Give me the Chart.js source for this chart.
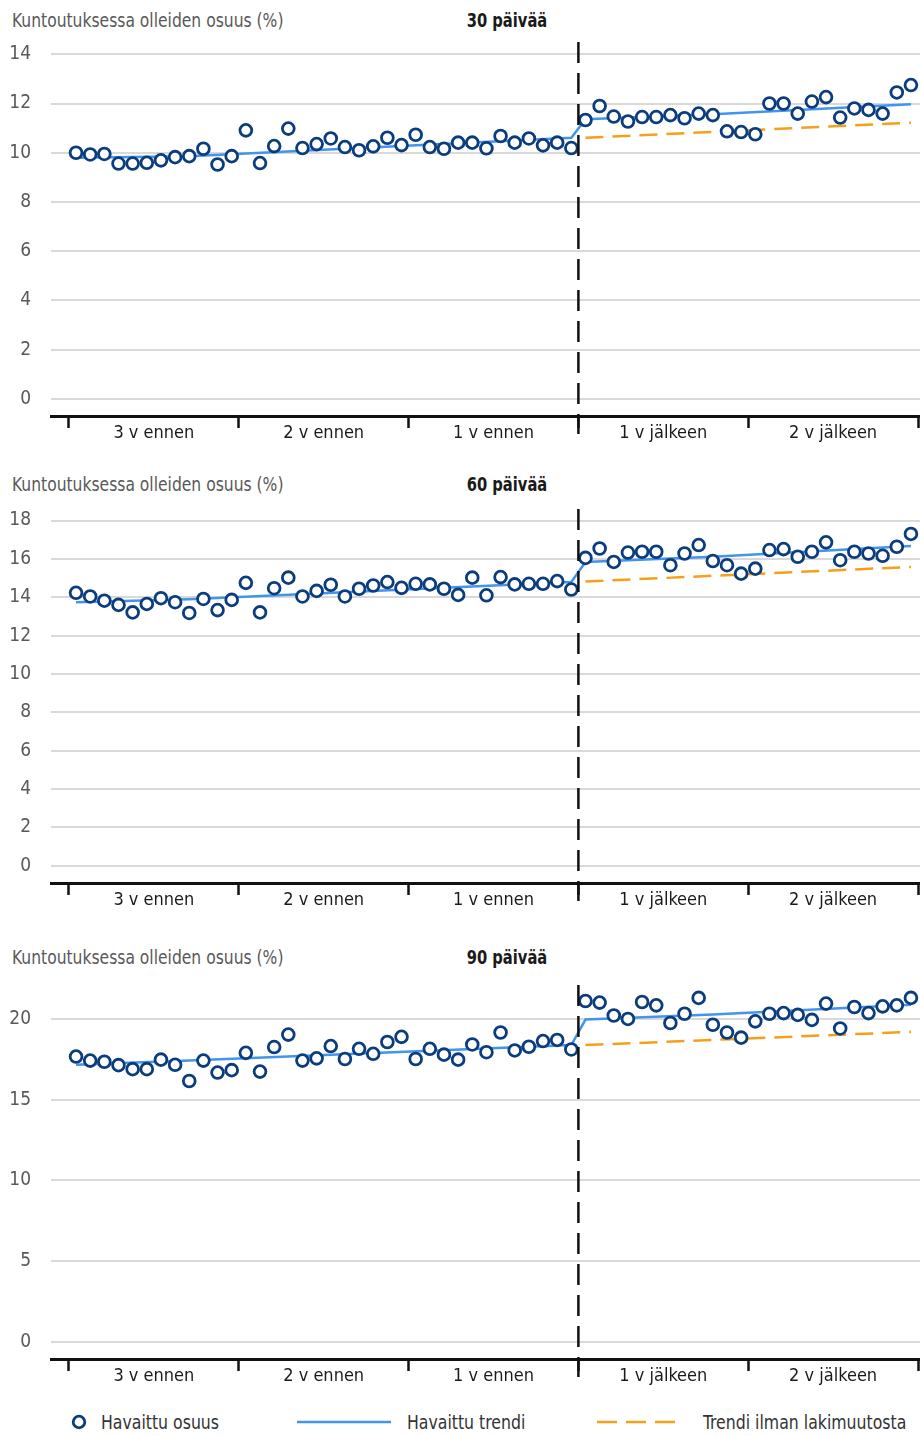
<!DOCTYPE html>
<html lang="fi">
<head>
<meta charset="utf-8">
<title>Kuntoutuksessa olleiden osuus</title>
<script src="https://cdn.jsdelivr.net/npm/chart.js@4.4.1/dist/chart.umd.min.js"></script>
<style>
    body { margin: 0; background: #fff; }
    #page {
        position: relative; width: 920px; height: 1436px; overflow: hidden;
        font-family: 'Liberation Sans Narrow', 'DejaVu Sans Condensed', sans-serif;
    }
    .panel { position: absolute; left: 0; width: 920px; height: 456px; }
    .ytitle { position: absolute; left: 12px; font-size: 19px; line-height: 20px; color: #595959; white-space: nowrap; transform: scaleX(0.91); transform-origin: left center; }
    .ptitle { position: absolute; font-size: 19px; line-height: 20px; font-weight: bold; color: #1a1a1a; transform: translateX(-50%) scaleX(0.86); white-space: nowrap; }
    .legend-item { position: absolute; top: 1411px; height: 22px; display: flex; align-items: center; font-size: 19px; color: #333; white-space: nowrap; }
    .legend-item svg { display: block; }
    .legend-item span { display: inline-block; transform: scaleX(0.92); transform-origin: left center; }
</style>
</head>
<body>
<div id="page">
    <div class="ytitle" style="top:10px">Kuntoutuksessa olleiden osuus (%)</div>
    <div class="ptitle" id="title0" style="top:10px;left:507px"></div>
    <div class="panel" style="top:0px"><canvas id="chart0" width="920" height="456"></canvas></div>

    <div class="ytitle" style="top:474px">Kuntoutuksessa olleiden osuus (%)</div>
    <div class="ptitle" id="title1" style="top:474px;left:507px"></div>
    <div class="panel" style="top:467px"><canvas id="chart1" width="920" height="456"></canvas></div>

    <div class="ytitle" style="top:947px">Kuntoutuksessa olleiden osuus (%)</div>
    <div class="ptitle" id="title2" style="top:947px;left:507px"></div>
    <div class="panel" style="top:943px"><canvas id="chart2" width="920" height="456"></canvas></div>

    <!-- Legend -->
    <div class="legend-item" style="left:70px">
        <svg width="18" height="18"><circle cx="9" cy="9" r="5.8" fill="#fff" stroke="#0b3c7d" stroke-width="2.8"/></svg>
        <span style="margin-left:13px">Havaittu osuus</span>
    </div>
    <div class="legend-item" style="left:297px">
        <svg width="94" height="6"><line x1="0" y1="3" x2="94" y2="3" stroke="#4394ec" stroke-width="2.5"/></svg>
        <span style="margin-left:16px">Havaittu trendi</span>
    </div>
    <div class="legend-item" style="left:597px">
        <svg width="80" height="6"><line x1="0" y1="3" x2="80" y2="3" stroke="#f5a01a" stroke-width="2.5" stroke-dasharray="20 9"/></svg>
        <span style="margin-left:26px">Trendi ilman lakimuutosta</span>
    </div>
</div>

<script>
// Panel titles and x-axis labels
const panelTitles = ['30 päivää', '60 päivää', '90 päivää'];
const yearLabels = ['3 v ennen', '2 v ennen', '1 v ennen', '1 v jälkeen', '2 v jälkeen'];
const yearMids = [5.5, 17.5, 29.5, 41.5, 53.5];
const yearBounds = [-0.5, 11.5, 23.5, 35.5, 47.5, 59.5];
const lawChange = 35.5;

// Month index of each observation (36 before, 24 after the change)
const months = [
    0, 1, 2, 3, 4, 5, 6, 7, 8, 9, 10, 11,
    12, 13, 14, 15, 16, 17, 18, 19, 20, 21, 22, 23,
    24, 25, 26, 27, 28, 29, 30, 31, 32, 33, 34, 35,
    36, 37, 38, 39, 40, 41, 42, 43, 44, 45, 46, 47,
    48, 49, 50, 51, 52, 53, 54, 55, 56, 57, 58, 59
];

// Observed share (%)
const share30 = [
    10.00, 9.93, 9.95, 9.56, 9.56, 9.59, 9.69, 9.82, 9.86, 10.16, 9.52, 9.86,
    10.91, 9.58, 10.27, 10.98, 10.19, 10.35, 10.58, 10.23, 10.10, 10.26, 10.61, 10.31,
    10.73, 10.23, 10.16, 10.41, 10.41, 10.18, 10.68, 10.41, 10.58, 10.30, 10.41, 10.19,
    11.33, 11.90, 11.47, 11.27, 11.45, 11.45, 11.53, 11.40, 11.59, 11.53, 10.87, 10.84,
    10.75, 12.00, 12.00, 11.59, 12.08, 12.26, 11.43, 11.80, 11.74, 11.59, 12.45, 12.75
];
const share60 = [
    14.23, 14.04, 13.82, 13.60, 13.21, 13.65, 13.95, 13.74, 13.18, 13.91, 13.33, 13.86,
    14.75, 13.21, 14.47, 15.02, 14.04, 14.33, 14.65, 14.04, 14.44, 14.61, 14.79, 14.49,
    14.70, 14.67, 14.44, 14.12, 15.02, 14.10, 15.05, 14.67, 14.70, 14.70, 14.84, 14.40,
    16.05, 16.54, 15.84, 16.33, 16.37, 16.37, 15.67, 16.28, 16.72, 15.89, 15.67, 15.23,
    15.49, 16.46, 16.51, 16.11, 16.37, 16.86, 15.93, 16.37, 16.28, 16.16, 16.63, 17.30
];
const share90 = [
    17.67, 17.42, 17.35, 17.14, 16.89, 16.89, 17.48, 17.16, 16.16, 17.42, 16.68, 16.83,
    17.90, 16.74, 18.26, 19.03, 17.42, 17.56, 18.32, 17.52, 18.15, 17.84, 18.57, 18.89,
    17.52, 18.15, 17.79, 17.48, 18.42, 17.94, 19.16, 18.05, 18.28, 18.63, 18.70, 18.11,
    21.11, 21.01, 20.21, 20.00, 21.05, 20.84, 19.75, 20.32, 21.30, 19.64, 19.16, 18.84,
    19.85, 20.32, 20.36, 20.25, 19.94, 20.95, 19.41, 20.74, 20.36, 20.78, 20.84, 21.30
];

// Observed trend (vertices of the fitted line)
const trendX = [0, 8, 35, 36, 45, 59];
const trend30 = [9.80, 9.86, 10.61, 11.36, 11.56, 11.97];
const trend60 = [13.74, 13.90, 14.79, 15.84, 16.11, 16.67];
const trend90 = [17.16, 17.42, 18.38, 19.96, 20.27, 20.88];

// Trend without the law change
const cfX = [36, 59];
const cf30 = [10.61, 11.22];
const cf60 = [14.82, 15.58];
const cf90 = [18.38, 19.20];

// Y axis ticks and ranges
const yTicks30 = [0, 2, 4, 6, 8, 10, 12, 14];
const yTicks60 = [0, 2, 4, 6, 8, 10, 12, 14, 16, 18];
const yTicks90 = [0, 5, 10, 15, 20];

const panels = [
    { share: share30, trend: trend30, cf: cf30, ticks: yTicks30, yMin: -0.7, yMax: 14.5 },
    { share: share60, trend: trend60, cf: cf60, ticks: yTicks60, yMin: -0.9, yMax: 18.6 },
    { share: share90, trend: trend90, cf: cf90, ticks: yTicks90, yMin: -1.05, yMax: 22.1 }
];

const fontFamily = "'Liberation Sans Narrow', 'DejaVu Sans Condensed', sans-serif";

// Dashed vertical line at the law change
const breakLine = {
    id: 'breakLine',
    afterDraw(chart) {
        const ctx = chart.ctx;
        const x = chart.scales.x.getPixelForValue(lawChange);
        ctx.save();
        ctx.strokeStyle = '#111';
        ctx.lineWidth = 2.5;
        ctx.setLineDash([21, 10]);
        ctx.beginPath();
        ctx.moveTo(x, chart.chartArea.top);
        ctx.lineTo(x, chart.chartArea.bottom + 18);
        ctx.stroke();
        ctx.restore();
    }
};

function toPoints(xs, ys) {
    return xs.map((x, i) => ({ x: x, y: ys[i] }));
}

function initializeChart(index) {
    const p = panels[index];
    document.getElementById('title' + index).textContent = panelTitles[index];
    const ctx = document.getElementById('chart' + index).getContext('2d');

    return new Chart(ctx, {
        type: 'line',
        data: {
            datasets: [
                {
                    label: 'Havaittu osuus',
                    data: toPoints(months, p.share),
                    showLine: false,
                    pointRadius: 5.9,
                    pointBorderWidth: 2.8,
                    pointBorderColor: '#0b3c7d',
                    pointBackgroundColor: '#ffffff'
                },
                {
                    label: 'Havaittu trendi',
                    data: toPoints(trendX, p.trend),
                    borderColor: '#4394ec',
                    borderWidth: 2.5,
                    pointRadius: 0,
                    tension: 0
                },
                {
                    label: 'Trendi ilman lakimuutosta',
                    data: toPoints(cfX, p.cf),
                    borderColor: '#f5a01a',
                    borderWidth: 2.5,
                    borderDash: [18, 9],
                    pointRadius: 0,
                    tension: 0
                }
            ]
        },
        options: {
            responsive: false,
            animation: false,
            devicePixelRatio: 1,
            layout: { autoPadding: false, padding: { top: 42, bottom: 0, left: 0, right: 0 } },
            plugins: {
                legend: { display: false },
                tooltip: { enabled: false }
            },
            scales: {
                x: {
                    type: 'linear',
                    min: -1.77,
                    max: 59.64,
                    afterBuildTicks: (scale) => {
                        scale.ticks = yearBounds.concat(yearMids)
                            .sort((a, b) => a - b)
                            .map(v => ({ value: v }));
                    },
                    afterFit: (scale) => { scale.height = 40; },
                    grid: {
                        drawOnChartArea: false,
                        drawTicks: true,
                        tickLength: 12,
                        tickWidth: 2.5,
                        tickColor: (c) => yearBounds.includes(c.tick && c.tick.value) ? '#111' : 'rgba(0,0,0,0)'
                    },
                    border: { display: true, color: '#111', width: 3 },
                    ticks: {
                        autoSkip: false,
                        maxRotation: 0,
                        padding: -5,
                        color: '#1a1a1a',
                        font: { family: fontFamily, size: 18 },
                        callback: (value) => {
                            const i = yearMids.indexOf(value);
                            return i >= 0 ? yearLabels[i] : '';
                        }
                    }
                },
                y: {
                    min: p.yMin,
                    max: p.yMax,
                    afterBuildTicks: (scale) => {
                        scale.ticks = p.ticks.map(v => ({ value: v }));
                    },
                    afterFit: (scale) => { scale.width = 51; },
                    grid: { color: '#d9d9d9', lineWidth: 2, drawTicks: false },
                    border: { display: false },
                    ticks: {
                        padding: 20,
                        color: '#595959',
                        font: { family: fontFamily, size: 19 }
                    }
                }
            }
        },
        plugins: [breakLine]
    });
}

// Initialize the page
const charts = [0, 1, 2].map(initializeChart);
</script>
</body>
</html>
